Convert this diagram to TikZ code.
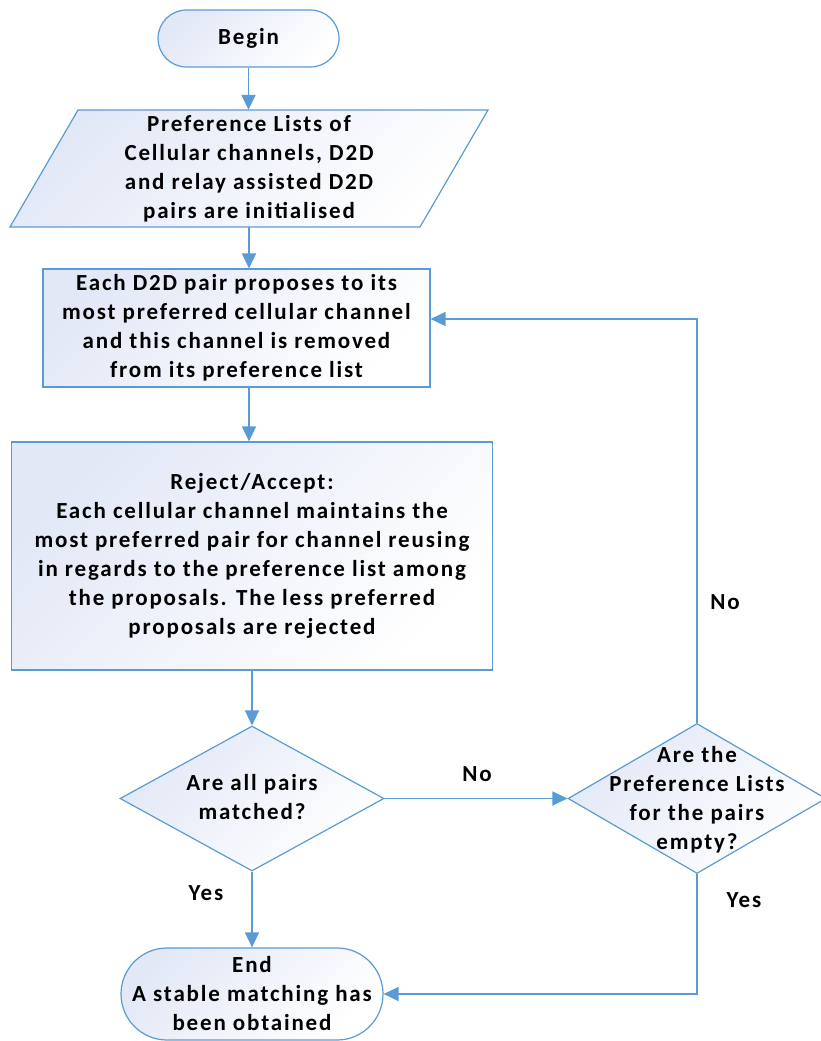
\documentclass[tikz,border=0pt]{standalone}
\usepackage{fontspec}
\setmainfont{Carlito}[LetterSpace=8]
\usetikzlibrary{shapes.geometric,arrows.meta,calc}
\definecolor{edgeblue}{RGB}{91,155,213}
\definecolor{shadec}{RGB}{226,232,246}
\begin{document}
\begin{tikzpicture}[x=1pt,y=-1pt,
  font=\fontsize{23}{29}\selectfont\bfseries,
  shapefill/.style={top color=shadec, bottom color=white, shading angle=45},
  outline/.style={draw=edgeblue, line width=1.2pt},
  termbox/.style={outline, shapefill, align=center, inner sep=0pt},
  procbox/.style={outline, shapefill, rectangle, align=center, inner sep=0pt},
  decbox/.style={outline, shapefill, diamond, inner sep=0pt},
  txt/.style={align=center, inner sep=0pt},
  arr/.style={draw=edgeblue, line width=1.6pt, -{Triangle[length=15pt,width=14pt]}},
  lbl/.style={inner sep=0pt}]
\useasboundingbox (0,0) rectangle (821,1041);
\fill[white] (0,0) rectangle (821,1041);

% Begin
\node[termbox, rounded corners=28.5pt, minimum width=181pt, minimum height=57pt] (begin) at (248.5,38.5) {Begin};

% Parallelogram
\path[outline, shapefill] (78,110) -- (488,110) -- (420,227) -- (10,227) -- cycle;
\node[txt, minimum width=410pt, minimum height=117pt] (par) at (249,168.5)
  {Preference Lists of\\Cellular channels, D2D\\and relay assisted D2D\\pairs are initialised};

% Process boxes
\node[procbox, minimum width=387pt, minimum height=118pt] (box1) at (236.5,328)
  {Each D2D pair proposes to its\\most preferred cellular channel\\and this channel is removed\\from its preference list};
\node[procbox, minimum width=481pt, minimum height=228pt] (box2) at (252,556)
  {Reject/Accept:\\Each cellular channel maintains the\\most preferred pair for channel reusing\\in regards to the preference list among\\the proposals. The less preferred\\proposals are rejected};

% Decisions
\node[decbox, minimum width=264pt, minimum height=145pt] (d1) at (252,798.5) {};
\node[txt] (d1t) at (252,797) {Are all pairs\\matched?};
\node[decbox, minimum width=258pt, minimum height=150pt] (d2) at (697,798.5) {};
\node[txt] (d2t) at (697,800) {Are the\\Preference Lists\\for the pairs\\empty?};

% End
\node[termbox, rounded corners=46pt, minimum width=262pt, minimum height=92pt] (end) at (252,994)
  {End\\A stable matching has\\been obtained};

% Connectors
\draw[arr] (begin.south) -- (begin.south |- par.north);
\draw[arr] (par.south) -- (par.south |- box1.north);
\draw[arr] (par.south |- box1.south) -- (par.south |- box2.north);
\draw[arr] (box2.south) -- (d1.north);
\draw[arr] (d1.east) -- (d2.west);
\coordinate (loopin) at ($(box1.east)+(0,-9)$);
\draw[arr] (d2.north) |- (loopin);
\draw[arr] (d1.south) -- (end.north);
\draw[arr] (d2.south) |- (end.east);

% Labels
\node[lbl] (no1) at (477,774) {No};
\node[lbl] (no2) at (725,602) {No};
\node[lbl] (yes1) at (206,893) {Yes};
\node[lbl] (yes2) at (744,900) {Yes};
\end{tikzpicture}
\end{document}
